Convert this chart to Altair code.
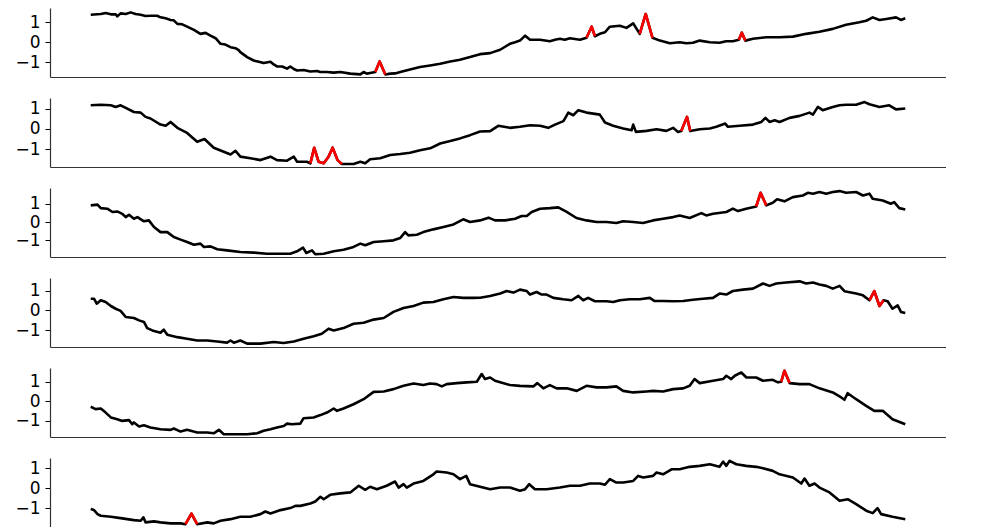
import altair as alt
import pandas as pd

# ---- data (time index 0..300) ----
P1_T = [0, 3.7, 5.5, 7.4, 9.2, 9.8, 11, 12.9, 14.7, 16.5, 18.4, 20.2, 22, 24.5, 25.7, 27.6, 29.4, 30.6, 31.9, 33.7,
        35.5, 38, 40.4, 42.3, 44.1, 46, 47.8, 49.6, 51.5, 53.3, 54.5, 55.1, 57.6, 60, 61.9, 63.7, 66.2, 67.4, 68.6, 70.5,
        72.3, 73.5, 74.8, 76, 78.4, 80.9, 83.3, 84.6, 87, 89.5, 91.9, 95.6, 99.3, 100.5, 101.7, 102.9, 104.8, 106.4, 108.5, 110.3,
        112.1, 114, 117.6, 121.3, 125, 128.7, 132.4, 136, 139.7, 143.4, 147.1, 150.8, 154.4, 156.3, 158.1, 160, 161.8, 165.5, 169.1, 171,
        172.8, 174.6, 176.5, 180.2, 182.6, 184.5, 185.7, 187.5, 189.4, 191.2, 194.9, 197.3, 199.8, 202.2, 204.4, 206.9, 209.6, 213.3, 216.9, 219.4,
        221.8, 224.3, 228, 231.6, 234, 236.5, 238.7, 239.8, 241.1, 243.9, 248.8, 253.7, 258.6, 263.5, 268.4, 273.3, 278.2, 283.1, 285.6, 288,
        290.5, 293, 296.6, 298.4, 300]
P1_V = [1.38, 1.42, 1.47, 1.40, 1.40, 1.30, 1.45, 1.42, 1.50, 1.42, 1.38, 1.32, 1.33, 1.33, 1.25, 1.20, 1.12, 1.10, 0.92, 0.90,
        0.78, 0.62, 0.42, 0.47, 0.33, 0.20, -0.08, -0.12, -0.25, -0.30, -0.40, -0.50, -0.75, -0.92, -0.98, -1.05, -0.98, -1.12, -1.22, -1.22,
        -1.33, -1.22, -1.35, -1.42, -1.40, -1.47, -1.45, -1.50, -1.50, -1.53, -1.50, -1.58, -1.62, -1.50, -1.58, -1.55, -1.50, -0.97, -1.62, -1.58,
        -1.57, -1.50, -1.37, -1.25, -1.17, -1.08, -0.97, -0.88, -0.75, -0.60, -0.55, -0.38, -0.08, 0.00, 0.08, 0.33, 0.12, 0.12, 0.05, 0.12,
        0.17, 0.12, 0.20, 0.12, 0.22, 0.78, 0.30, 0.42, 0.50, 0.78, 0.83, 0.72, 0.95, 0.42, 1.42, 0.22, 0.08, -0.05, 0.00, -0.05,
        -0.03, 0.08, 0.00, -0.03, 0.05, 0.05, 0.12, 0.48, 0.08, 0.17, 0.25, 0.25, 0.28, 0.42, 0.53, 0.67, 0.88, 1.00, 1.08, 1.25,
        1.12, 1.17, 1.25, 1.12, 1.20]
P1_ANOM = [(104.8, 108.5), (182.6, 185.7), (202.2, 206.9), (238.7, 241.1)]

P2_T = [0, 3.7, 7.4, 9.2, 11, 12.9, 15.9, 18.4, 20.2, 22, 25.7, 27.6, 29.4, 31.9, 35.5, 39.2, 41.9, 45.3, 49, 51.5,
        53.3, 55.1, 58.8, 62.5, 66.2, 68.6, 72.3, 74.8, 76, 79.6, 80.9, 82.3, 83.9, 85.8, 87.6, 89.1, 90.9, 92.5, 96.8, 99.3,
        101.1, 102.9, 106.6, 110.3, 114, 117.6, 121.3, 125, 128.7, 132.4, 136, 139.7, 143.4, 147.1, 150.1, 154.4, 158.1, 161.8, 165.5, 168.5,
        171, 174.1, 175.9, 177.7, 179.6, 182.6, 185.1, 187.5, 189.4, 192.4, 196.1, 199.2, 199.8, 200.8, 204.7, 208.4, 212, 214.5, 216.3, 217.5,
        219.6, 220.8, 224.3, 228, 230.4, 233.7, 234.7, 239, 243.9, 247, 248.5, 250, 251.9, 253.7, 257.4, 261.1, 264.7, 266, 267.8, 269.6,
        273.3, 275.8, 278.2, 281.9, 285, 286.8, 290.5, 294.1, 296.6, 300]
P2_V = [1.16, 1.19, 1.16, 1.08, 1.16, 1.03, 0.83, 0.80, 0.59, 0.51, 0.21, 0.15, 0.34, 0.05, -0.20, -0.64, -0.50, -0.93, -1.13, -1.26,
        -1.08, -1.37, -1.45, -1.54, -1.37, -1.54, -1.57, -1.37, -1.62, -1.62, -1.70, -0.93, -1.62, -1.70, -1.37, -0.93, -1.54, -1.73, -1.73, -1.62,
        -1.70, -1.50, -1.45, -1.29, -1.24, -1.18, -1.05, -0.96, -0.72, -0.60, -0.47, -0.31, -0.13, -0.11, 0.15, 0.05, 0.10, 0.18, 0.15, 0.05,
        0.21, 0.38, 0.80, 0.67, 0.92, 0.80, 0.75, 0.70, 0.31, 0.15, 0.02, -0.07, 0.21, -0.15, -0.10, -0.02, -0.10, 0.05, -0.15, -0.11,
        0.59, -0.11, -0.02, 0.02, 0.10, 0.26, 0.10, 0.15, 0.21, 0.34, 0.54, 0.34, 0.42, 0.34, 0.54, 0.64, 0.80, 0.70, 1.08, 0.92,
        1.08, 1.16, 1.19, 1.19, 1.32, 1.21, 1.08, 1.16, 0.96, 1.00]
P2_ANOM = [(80.9, 92.5), (217.5, 220.8)]

P3_T = [0, 2.5, 3.7, 6.1, 8, 9.8, 11.6, 12.9, 14.1, 15.9, 17.2, 19.6, 21.4, 23.3, 25.7, 28.2, 30.6, 33.1, 35.5, 38,
        40.4, 41.7, 44.1, 46.6, 50.2, 55.1, 60, 64.9, 69.9, 73.5, 76, 78.2, 79.4, 81.5, 82.7, 85.8, 89.5, 93.1, 96.8, 99.3,
        101.1, 104.2, 107.9, 111.5, 114, 115.8, 117, 120.1, 122.5, 126.2, 129.9, 133.6, 137.2, 139.7, 143.4, 146.5, 148.9, 152.6, 156.3, 158.7,
        160.6, 162.4, 165.5, 169.1, 172.2, 175.3, 178.9, 182.6, 186.3, 190, 193.6, 196.1, 199.8, 203.4, 207.1, 210.8, 214.5, 216.9, 220.6, 224.9,
        226.7, 229.2, 234.1, 236.5, 238.4, 241.4, 245.1, 246.7, 248.8, 251.2, 252.8, 255.5, 258.6, 262.3, 264.1, 266, 268.4, 270.9, 273.3, 275.8,
        278.2, 281.9, 284.4, 286.8, 288, 291.7, 294.7, 295.9, 297.8, 300]
P3_V = [0.91, 0.95, 0.76, 0.73, 0.55, 0.58, 0.45, 0.27, 0.40, 0.18, 0.27, 0.04, 0.09, -0.27, -0.55, -0.55, -0.82, -0.96, -1.09, -1.24,
        -1.18, -1.36, -1.33, -1.49, -1.55, -1.64, -1.67, -1.73, -1.73, -1.73, -1.60, -1.40, -1.69, -1.55, -1.76, -1.73, -1.60, -1.51, -1.36, -1.18,
        -1.27, -1.09, -1.05, -1.00, -0.87, -0.55, -0.73, -0.69, -0.55, -0.40, -0.27, -0.13, 0.15, 0.00, 0.09, 0.24, 0.09, 0.09, 0.18, 0.33,
        0.33, 0.55, 0.73, 0.76, 0.80, 0.55, 0.22, 0.09, 0.00, 0.00, -0.05, 0.04, 0.00, -0.05, 0.09, 0.18, 0.27, 0.36, 0.22, 0.49,
        0.36, 0.45, 0.55, 0.73, 0.60, 0.73, 0.85, 1.60, 0.91, 1.05, 1.24, 1.13, 1.36, 1.45, 1.60, 1.55, 1.64, 1.55, 1.64, 1.69,
        1.60, 1.64, 1.45, 1.55, 1.27, 1.18, 1.00, 1.09, 0.76, 0.69]
P3_ANOM = [(245.1, 248.8)]

P4_T = [0, 1.2, 2.2, 3.7, 5.5, 7.4, 9.2, 11, 12.9, 15.9, 17.8, 19.6, 20.8, 22.7, 25.7, 26.9, 28.2, 31.9, 35.5, 39.2,
        42.9, 46.6, 50.2, 51.5, 52.7, 55.1, 57.6, 62.5, 67.4, 71, 74.8, 78.4, 82.1, 85.1, 87.6, 89.5, 93.1, 96.8, 100.5, 104.2,
        107.9, 111.5, 115.2, 118.9, 122.5, 126.2, 129.9, 133.6, 137.2, 140.9, 143.4, 147.1, 150.8, 153.2, 155.7, 158.1, 160.6, 161.8, 164.2, 166.1,
        167.9, 170.4, 174, 177.1, 179.6, 181.4, 183.2, 185.7, 190, 192.4, 194.9, 198.5, 202.2, 205.9, 207.7, 210.8, 214.5, 218.2, 221.8, 225.5,
        229.2, 231.6, 234.1, 236.5, 240.2, 243.9, 247.6, 250, 252.5, 256.1, 261.1, 263.5, 266, 268.4, 270.9, 273.3, 275.8, 277.6, 281.9, 284.4,
        286.8, 288.6, 290.5, 292, 293.5, 295.3, 297.2, 298.4, 300]
P4_V = [0.59, 0.59, 0.34, 0.51, 0.42, 0.22, 0.08, -0.03, -0.34, -0.39, -0.51, -0.59, -0.90, -1.02, -1.14, -0.98, -1.24, -1.36, -1.44, -1.53,
        -1.53, -1.58, -1.64, -1.53, -1.64, -1.53, -1.69, -1.69, -1.61, -1.66, -1.58, -1.44, -1.31, -1.19, -0.93, -1.02, -0.90, -0.68, -0.63, -0.47,
        -0.39, -0.08, 0.12, 0.22, 0.39, 0.42, 0.56, 0.68, 0.63, 0.63, 0.64, 0.73, 0.85, 0.98, 0.90, 1.05, 0.98, 0.80, 0.93, 0.80,
        0.80, 0.63, 0.56, 0.51, 0.73, 0.51, 0.63, 0.46, 0.46, 0.42, 0.51, 0.56, 0.56, 0.63, 0.47, 0.47, 0.46, 0.47, 0.54, 0.59,
        0.63, 0.85, 0.80, 0.98, 1.05, 1.10, 1.36, 1.24, 1.36, 1.41, 1.47, 1.36, 1.41, 1.31, 1.24, 1.10, 1.24, 0.97, 0.85, 0.76,
        0.51, 0.97, 0.22, 0.51, 0.46, 0.08, 0.25, -0.08, -0.14]
P4_ANOM = [(286.8, 292)]

P5_T = [0, 1.8, 3.7, 5.5, 7.4, 9.8, 11.6, 14.1, 15.3, 15.9, 17.8, 19.6, 22, 25.7, 29.4, 30.6, 33.1, 35.5, 39.2, 42.9,
        45.3, 47.2, 49, 52.7, 57.6, 61.3, 63.7, 66.2, 68.6, 71.1, 72.3, 74.1, 77.2, 78.4, 82.1, 84.6, 87, 89.5, 90.7, 93.1,
        96.8, 100.5, 104.2, 107.9, 111.5, 115.2, 118.9, 122.5, 125, 127.4, 129.3, 131.1, 134.8, 138.5, 142.2, 144, 145.2, 147.1, 148.9, 150.8,
        154.4, 158.1, 163, 164.5, 166.7, 169.1, 171.6, 175.3, 179, 182.6, 186.3, 190, 193.6, 196.1, 199.8, 204.7, 207.1, 210.8, 214.5, 218.2,
        220.6, 222.4, 224.3, 229.2, 232.9, 234.1, 235.9, 237.2, 239.6, 241.5, 245.1, 247.6, 251.2, 253.1, 254.3, 255.5, 257.4, 261.1, 264.7, 268.4,
        273.3, 276.4, 277.6, 278.8, 281.9, 285.6, 288.6, 291.7, 295.3, 300]
P5_V = [-0.29, -0.41, -0.38, -0.59, -0.84, -0.93, -1.02, -0.98, -1.19, -1.10, -1.31, -1.24, -1.36, -1.45, -1.48, -1.41, -1.57, -1.48, -1.62, -1.62,
        -1.66, -1.48, -1.71, -1.71, -1.71, -1.66, -1.53, -1.45, -1.36, -1.28, -1.16, -1.19, -1.16, -0.88, -0.84, -0.72, -0.59, -0.38, -0.50, -0.38,
        -0.16, 0.10, 0.48, 0.50, 0.62, 0.79, 0.91, 0.83, 0.91, 0.88, 0.76, 0.88, 0.93, 0.97, 1.00, 1.40, 1.14, 1.22, 1.05, 0.97,
        0.83, 0.79, 0.76, 0.93, 0.66, 0.83, 0.66, 0.66, 0.53, 0.79, 0.71, 0.71, 0.76, 0.53, 0.45, 0.50, 0.53, 0.50, 0.62, 0.66,
        0.79, 1.14, 0.93, 1.05, 1.14, 1.31, 1.14, 1.31, 1.48, 1.22, 1.22, 1.05, 1.10, 0.97, 1.00, 1.57, 0.93, 0.88, 0.88, 0.66,
        0.45, 0.19, 0.07, 0.41, 0.10, -0.24, -0.50, -0.50, -0.93, -1.19]
P5_ANOM = [(254.3, 257.4)]

P6_T = [0, 1.2, 2.5, 3.7, 7.4, 11, 15.9, 18.4, 19.4, 20.2, 23.3, 25.7, 29.4, 33.1, 34.9, 37.1, 39.2, 42.9, 45.3, 47.8,
        51.5, 55.1, 58.8, 62.5, 64.3, 66.2, 69.9, 73.5, 75.4, 77.2, 80.9, 82.7, 84.6, 85.8, 88.2, 91.9, 95.6, 98.7, 101.1, 102.9,
        105.4, 109, 112.1, 113.4, 115.2, 116.4, 118.9, 122.5, 126.2, 127.4, 131.1, 133.6, 136, 138.3, 139.7, 143.4, 147.1, 150.8, 154.4, 158.1,
        160, 161.5, 163.6, 167.9, 172.8, 176.5, 180.2, 183.8, 187.5, 189.4, 191.2, 193.6, 196.1, 199.8, 201.6, 203.5, 207.1, 208.4, 210.8, 213.9,
        216.9, 220.6, 224.3, 228, 231.6, 232.9, 234.1, 235.3, 237.8, 241.4, 245.1, 247.6, 251.2, 253.7, 258.6, 261.7, 262.9, 264.7, 266.6, 268.4,
        272.1, 275.8, 278.8, 281.9, 285.6, 288, 289.8, 291.1, 295.3, 300]
P6_V = [-1.04, -1.09, -1.29, -1.37, -1.42, -1.49, -1.59, -1.62, -1.45, -1.70, -1.65, -1.70, -1.75, -1.75, -1.79, -1.26, -1.79, -1.70, -1.75, -1.62,
        -1.54, -1.42, -1.42, -1.29, -1.16, -1.26, -1.09, -0.99, -0.88, -0.88, -0.76, -0.66, -0.43, -0.55, -0.33, -0.26, -0.21, 0.12, -0.08, 0.07,
        -0.05, 0.12, 0.33, 0.03, 0.20, 0.03, 0.23, 0.36, 0.69, 0.83, 0.78, 0.69, 0.45, 0.61, 0.20, 0.07, -0.05, 0.03, 0.03, -0.13,
        -0.05, 0.20, -0.05, -0.05, 0.03, 0.12, 0.12, 0.23, 0.23, 0.17, 0.45, 0.28, 0.28, 0.36, 0.61, 0.53, 0.61, 0.78, 0.69, 0.94,
        0.94, 1.06, 1.11, 1.19, 1.06, 1.32, 1.11, 1.36, 1.19, 1.11, 1.06, 0.99, 0.86, 0.69, 0.53, 0.23, 0.48, 0.12, 0.23, 0.03,
        -0.21, -0.63, -0.55, -0.79, -1.12, -1.24, -0.99, -1.29, -1.42, -1.54]
P6_ANOM = [(34.9, 39.2)]

Y_DOMAINS = [[-1.75, 1.72], [-1.88, 1.52], [-1.91, 1.86], [-1.86, 1.64], [-1.85, 1.71], [-1.93, 1.50]]
Y_TICKS = [-1, 0, 1]
X_DOMAIN = [-15, 315]

SERIES = [(P1_T, P1_V, P1_ANOM), (P2_T, P2_V, P2_ANOM), (P3_T, P3_V, P3_ANOM),
          (P4_T, P4_V, P4_ANOM), (P5_T, P5_V, P5_ANOM), (P6_T, P6_V, P6_ANOM)]


def panel(t, v, anoms, dom):
    rows = []
    for ti, vi in zip(t, v):
        seg = "none"
        for k, (a, b) in enumerate(anoms):
            if a <= ti <= b:
                seg = f"a{k}"
        rows.append({"t": ti, "v": vi, "seg": seg})
    df = pd.DataFrame(rows)
    x = alt.X("t:Q", scale=alt.Scale(domain=X_DOMAIN, nice=False, zero=False),
              axis=alt.Axis(title=None, labels=False, ticks=False, grid=False, domain=True,
                            minExtent=0, maxExtent=0, offset=0))
    y = alt.Y("v:Q", scale=alt.Scale(domain=dom, nice=False, zero=False),
              axis=alt.Axis(title=None, values=Y_TICKS, grid=False, format="d",
                            labelOverlap=False, minExtent=42, maxExtent=42))
    base = alt.Chart(df)
    black = base.mark_line(color="black", strokeWidth=2.6, strokeJoin="round").encode(x=x, y=y)
    red = base.transform_filter("datum.seg != 'none'").mark_line(
        color="#ff0000", strokeWidth=2.6, strokeJoin="round").encode(x=x, y=y, detail="seg:N")
    return alt.layer(black, red).properties(width=896, height=69)


chart = alt.vconcat(*[panel(t, v, a, d) for (t, v, a), d in zip(SERIES, Y_DOMAINS)], spacing=21).properties(
    padding=0
).configure_view(stroke=None).configure_axis(
    labelFont="DejaVu Sans", labelFontSize=17, labelColor="black",
    tickColor="black", tickSize=5, tickWidth=1, labelPadding=5,
    domainColor="#333333", domainWidth=1.2
)

chart.save("out.html", embed_options={"renderer": "svg", "actions": False})
